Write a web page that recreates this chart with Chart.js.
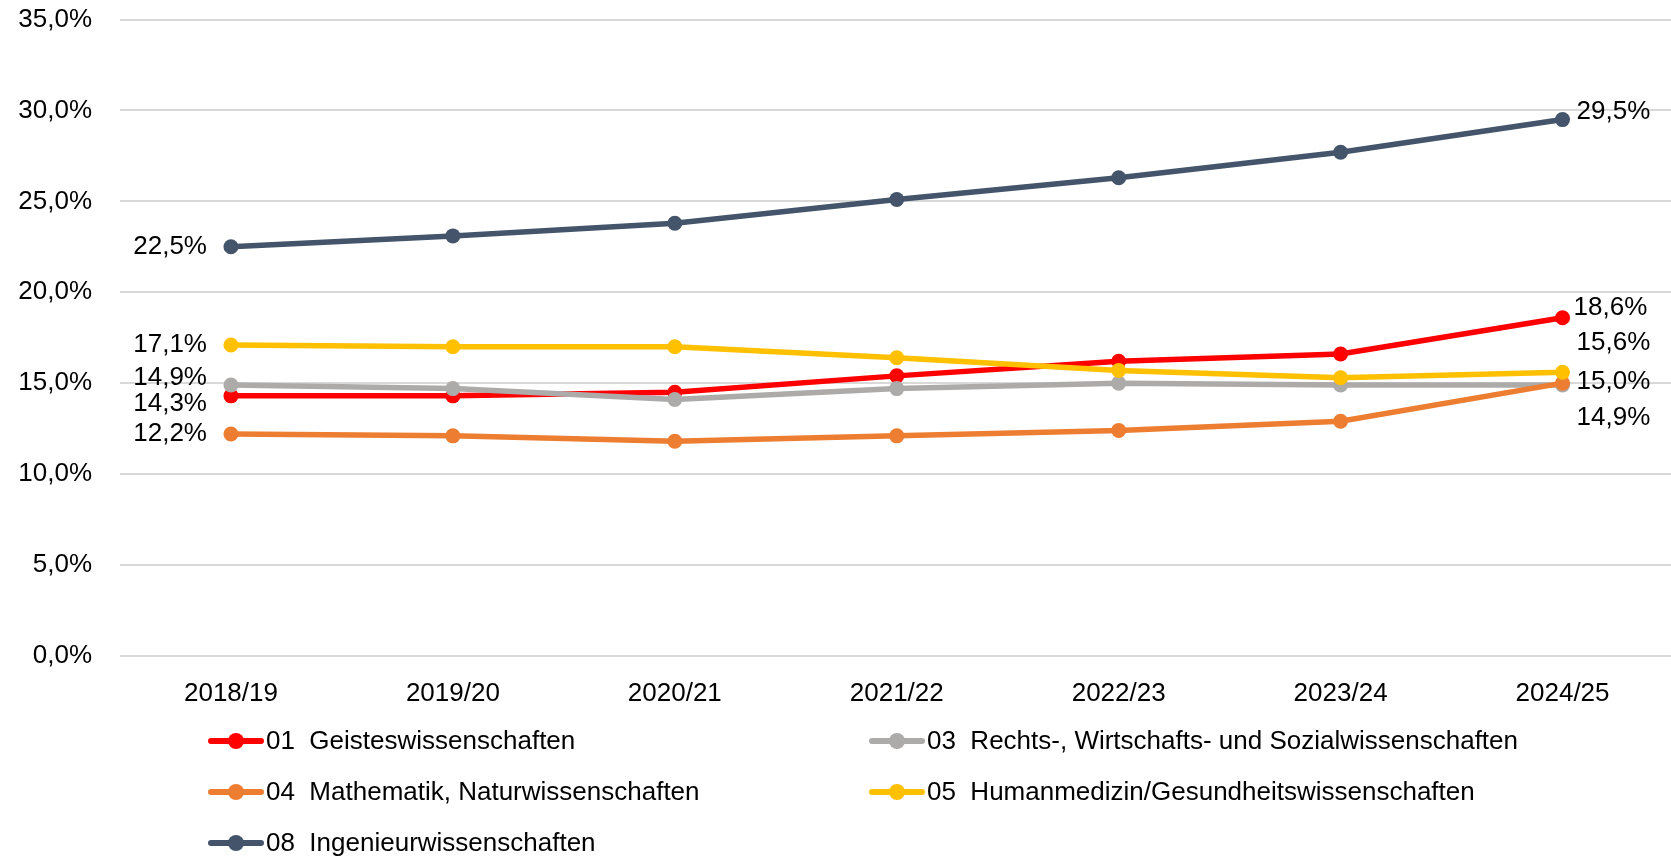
<!DOCTYPE html>
<html lang="de">
<head>
<meta charset="utf-8">
<title>Anteile nach Fächergruppen</title>
<script src="https://cdn.jsdelivr.net/npm/chart.js@4.4.1/dist/chart.umd.min.js"></script>
<style>
  html, body { margin: 0; padding: 0; background: #fff; overflow: hidden; }
  #wrap { position: relative; width: 1671px; height: 857px; overflow: hidden; }
  #chart { position: absolute; left: 0; top: -24px; }
  #legend {
    position: absolute; left: 208px; top: 715px;
    display: grid; grid-template-columns: 661px auto; grid-auto-rows: 51px;
    font-family: "Liberation Sans", Arial, sans-serif; font-size: 26px; color: #000;
  }
  .item { display: flex; align-items: center; white-space: pre; }
  .sym { position: relative; width: 56px; height: 16px; margin-right: 2px; }
  .sym .ln { position: absolute; left: 0; right: 0; top: 5px; height: 6px; border-radius: 3px; }
  .sym .dot { position: absolute; left: 20px; top: 0; width: 16px; height: 16px; border-radius: 50%; }
</style>
</head>
<body>
<div id="wrap">
  <canvas id="chart" width="1681" height="755"></canvas>
  <div id="legend"></div>
</div>
<script>
"use strict";

// Semester
var years = ["2018/19", "2019/20", "2020/21", "2021/22", "2022/23", "2023/24", "2024/25"];

// Anteile in Prozent
var geistes = [14.3, 14.3, 14.5, 15.4, 16.2, 16.6, 18.6];
var rechtsWiSo = [14.9, 14.7, 14.1, 14.7, 15.0, 14.9, 14.9];
var matheNatur = [12.2, 12.1, 11.8, 12.1, 12.4, 12.9, 15.0];
var humanmedizin = [17.1, 17.0, 17.0, 16.4, 15.7, 15.3, 15.6];
var ingenieur = [22.5, 23.1, 23.8, 25.1, 26.3, 27.7, 29.5];

var seriesNames = [
  "01  Geisteswissenschaften",
  "03  Rechts-, Wirtschafts- und Sozialwissenschaften",
  "04  Mathematik, Naturwissenschaften",
  "05  Humanmedizin/Gesundheitswissenschaften",
  "08  Ingenieurwissenschaften"
];

var yTicks = [0, 5, 10, 15, 20, 25, 30, 35];

var colors = ["#FF0000", "#ADABAA", "#ED7D31", "#FFC000", "#44546A"];

/* where the value labels sit next to the first and last point (pixels) */
var labelOffsets = [
  { first: [-24, 8],  last: [11, -10] },
  { first: [-24, -7], last: [14, 33] },
  { first: [-24, 0],  last: [14, -1] },
  { first: [-24, 0],  last: [14, -29] },
  { first: [-24, 0],  last: [14, -8] }
];

function pct(v) {
  return v.toFixed(1).replace(".", ",") + "%";
}

var allValues = [geistes, rechtsWiSo, matheNatur, humanmedizin, ingenieur];
var datasets = [];
for (var i = 0; i < allValues.length; i++) {
  datasets.push({
    label: seriesNames[i],
    data: allValues[i],
    borderColor: colors[i],
    backgroundColor: colors[i],
    borderWidth: 5.5,
    pointRadius: 7.5,
    pointBorderWidth: 0,
    pointBackgroundColor: colors[i],
    tension: 0,
    order: allValues.length - i
  });
}

var FONT = "Liberation Sans, Arial, sans-serif";

/* first / last value labels like in the Excel chart */
var endLabels = {
  id: "endLabels",
  afterDatasetsDraw: function (chart) {
    var ctx = chart.ctx;
    ctx.save();
    ctx.font = "26px " + FONT;
    ctx.fillStyle = "#000";
    ctx.textBaseline = "middle";
    chart.data.datasets.forEach(function (ds, di) {
      var meta = chart.getDatasetMeta(di);
      var n = meta.data.length;
      var p0 = meta.data[0];
      var pN = meta.data[n - 1];
      var off = labelOffsets[di];
      ctx.textAlign = "right";
      ctx.fillText(pct(ds.data[0]), p0.x + off.first[0], p0.y + off.first[1]);
      ctx.textAlign = "left";
      ctx.fillText(pct(ds.data[n - 1]), pN.x + off.last[0], pN.y + off.last[1]);
    });
    ctx.restore();
  }
};

var ctx0 = document.getElementById("chart");
var myChart = new Chart(ctx0, {
  type: "line",
  data: { labels: years, datasets: datasets },
  plugins: [endLabels],
  options: {
    responsive: false,
    animation: false,
    devicePixelRatio: 1,
    layout: { padding: { top: 4, right: 0, bottom: 0, left: 0 } },
    plugins: {
      legend: { display: false },
      tooltip: { enabled: false }
    },
    scales: {
      x: {
        offset: true,
        grid: { display: false, drawTicks: false },
        border: { display: false },
        ticks: { color: "#000", font: { family: FONT, size: 26 }, padding: 22, maxRotation: 0 }
      },
      y: {
        min: 0,
        max: 35,
        afterFit: function (scale) { scale.width = 120; },
        afterBuildTicks: function (scale) {
          scale.ticks = yTicks.map(function (v) { return { value: v }; });
        },
        grid: { color: "#D9D9D9", lineWidth: 2, drawTicks: false },
        border: { display: false },
        ticks: {
          color: "#000",
          font: { family: FONT, size: 26 },
          padding: 28,
          callback: function (v) { return pct(v); }
        }
      }
    }
  }
});

/* legend in two columns */
var legend = document.getElementById("legend");
datasets.forEach(function (ds) {
  var item = document.createElement("div");
  item.className = "item";
  var sym = document.createElement("span");
  sym.className = "sym";
  var ln = document.createElement("span");
  ln.className = "ln";
  ln.style.background = ds.borderColor;
  var dot = document.createElement("span");
  dot.className = "dot";
  dot.style.background = ds.borderColor;
  sym.appendChild(ln);
  sym.appendChild(dot);
  var txt = document.createElement("span");
  txt.textContent = ds.label;
  item.appendChild(sym);
  item.appendChild(txt);
  legend.appendChild(item);
});
</script>
</body>
</html>
